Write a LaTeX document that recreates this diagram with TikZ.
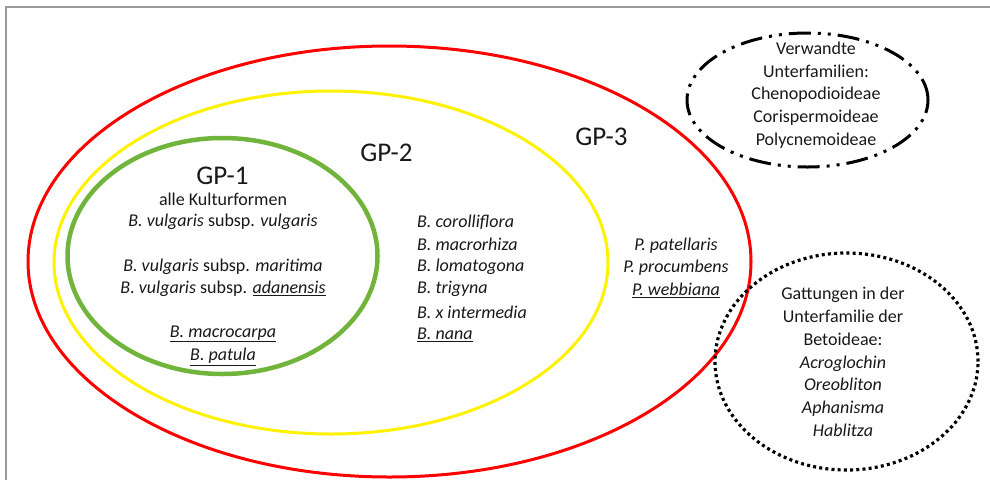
\documentclass[tikz,border=0pt]{standalone}
\usepackage{fontspec}
\setmainfont{Carlito}
\begin{document}
\begin{tikzpicture}[x=1pt,y=-1pt,
  txt/.style={inner sep=0pt, align=center, text=black!90, font=\fontsize{18}{22.8}\selectfont},
  gp/.style={inner sep=0pt, text=black!90, font=\fontsize{27}{30}\selectfont},
  ring/.style={line width=3pt},
  dashdot/.style={line width=3pt, dash pattern=on 22pt off 7pt on 3pt off 7pt on 3pt off 7pt},
  dotline/.style={line width=3.2pt, dash pattern=on 3pt off 3.2pt}
]
\useasboundingbox (0,0) rectangle (990,480);
\fill[white] (0,0) rectangle (990,480);
% frame
\draw[gray!80, line width=1.5pt] (6,480) -- (6,7) -- (990,7);
% ellipses
\draw[ring, red] (389.5,261.5) ellipse [x radius=361.5pt, y radius=215.5pt];
\draw[ring, yellow] (331,262.5) ellipse [x radius=277pt, y radius=171.5pt];
\draw[line width=4.5pt, color={rgb,255:red,112;green,180;blue,60}] (222.5,256) ellipse [x radius=155pt, y radius=118pt];
\draw[dashdot] (807.5,100) ellipse [x radius=120.5pt, y radius=67pt];
\draw[dotline] (846.5,361.5) ellipse [x radius=131.5pt, y radius=108.5pt];
% labels
\node[gp] (gp1) at (222.5,176) {GP-1};
\node[gp] (gp2) at (386.5,153) {GP-2};
\node[gp] (gp3) at (601.5,137) {GP-3};
% GP-1 content
\node[txt] (kultur) at (223,199.5) {alle Kulturformen};
\node[txt] (vulg) at (223,222) {\textit{B. vulgaris} subsp. \textit{vulgaris}};
\node[txt] (mari) at (223,267) {\textit{B. vulgaris} subsp. \textit{maritima}};
\node[txt] (adan) at (223,289) {\textit{B. vulgaris} subsp. \underline{\textit{adanensis}}};
\node[txt] (macro) at (223,334) {\underline{\textit{B. macrocarpa}}};
\node[txt] (patula) at (223,357) {\underline{\textit{B. patula}}};
% GP-2 content
\node[txt, anchor=west] (coro) at (417,222) {\textit{B. corolliflora}};
\node[txt, anchor=west] (macrorh) at (417,244) {\textit{B. macrorhiza}};
\node[txt, anchor=west] (loma) at (417,267) {\textit{B. lomatogona}};
\node[txt, anchor=west] (trig) at (417,289) {\textit{B. trigyna}};
\node[txt, anchor=west] (inter) at (417,312) {\textit{B. x intermedia}};
\node[txt, anchor=west] (nana) at (417,335) {\underline{\textit{B. nana}}};
% GP-3 content
\node[txt] (pat) at (676,246) {\textit{P. patellaris}};
\node[txt] (proc) at (676,268) {\textit{P. procumbens}};
\node[txt] (webb) at (676,290) {\underline{\textit{P. webbiana}}};
% related subfamilies
\node[txt] (verw) at (816,95) {Verwandte\\Unterfamilien:\\Chenopodioideae\\Corispermoideae\\Polycnemoideae};
% genera
\node[txt] (gatt) at (843,362) {Gattungen in der\\Unterfamilie der\\Betoideae:\\\textit{Acroglochin}\\\textit{Oreobliton}\\\textit{Aphanisma}\\\textit{Hablitza}};
\end{tikzpicture}
\end{document}
